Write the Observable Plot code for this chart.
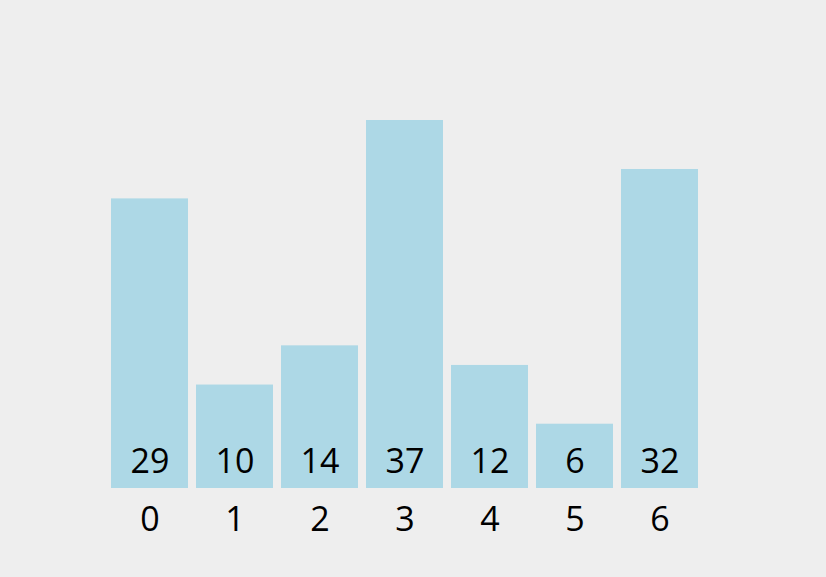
<!DOCTYPE html>
<html>
<head>
<meta charset="utf-8">
<script src="https://cdn.jsdelivr.net/npm/d3@7"></script>
<script src="https://cdn.jsdelivr.net/npm/@observablehq/plot@0.6"></script>
<style>
  html, body { margin: 0; padding: 0; background: #eeeeee; }
  #chart svg { display: block; }
</style>
</head>
<body>
<div id="chart"></div>
<script>
const categories = ["0", "1", "2", "3", "4", "5", "6"];
const values = [29, 10, 14, 37, 12, 6, 32];
const base = -0.56;

const data = categories.map((c, i) => ({category: c, value: values[i]}));

const chart = Plot.plot({
  width: 826,
  height: 577,
  marginTop: 0,
  marginBottom: 0,
  marginLeft: 0,
  marginRight: 0,
  style: {background: "#eeeeee", fontFamily: "'Open Sans', sans-serif", color: "black"},
  x: {type: "band", domain: categories, range: [110, 698.7], paddingInner: 0.1, paddingOuter: 0, axis: null},
  y: {domain: [base, 37], range: [488, 120], axis: null},
  marks: [
    Plot.barY(data, {x: "category", y1: () => base, y2: "value", fill: "lightblue"}),
    Plot.text(data, {x: "category", y: () => base, dy: -26, text: d => String(d.value), fontSize: 34, fill: "black"}),
    Plot.text(data, {x: "category", y: () => base, dy: 32, text: "category", fontSize: 34, fill: "black"})
  ]
});
document.getElementById("chart").appendChild(chart);
</script>
</body>
</html>
